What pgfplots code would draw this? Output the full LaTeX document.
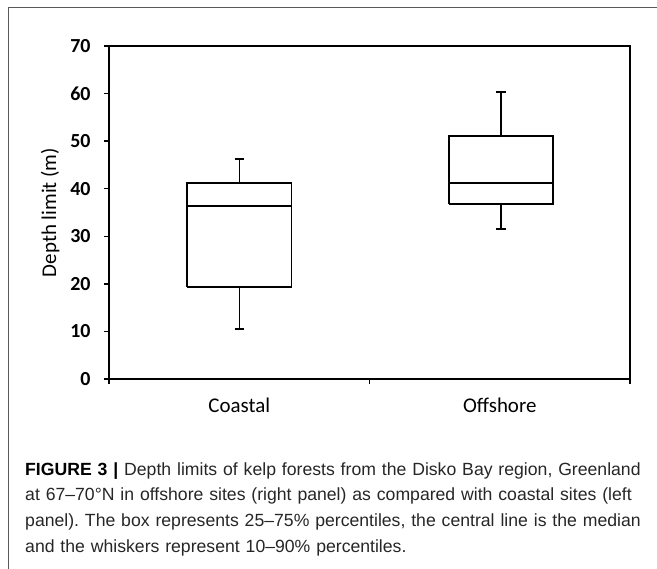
\documentclass[border=0pt]{standalone}
\usepackage{fontspec}
\setmainfont{Liberation Sans}
\newfontfamily\calfont{Carlito}
\usepackage{pgfplots}
\pgfplotsset{compat=1.18}
\frenchspacing
\begin{document}
\begin{tikzpicture}[x=1bp,y=1bp]
\path[use as bounding box] (0,0) rectangle (657,-569);
\draw[line width=1bp, color=black!65] (8,-569) -- (8,-8) -- (657,-8);
\begin{axis}[
  at={(109bp,-379bp)}, anchor=south west,
  scale only axis, width=521bp, height=333bp,
  xmin=0, xmax=2, ymin=0, ymax=70,
  ytick={0,10,...,70},
  xtick={0,1,2},
  xticklabels={Coastal,Offshore},
  x tick label as interval,
  xtick pos=bottom, ytick pos=left,
  tick align=outside,
  major tick length=5bp,
  axis line style={line width=1.4bp},
  tick style={line width=1.4bp, black},
  /pgf/number format/assume math mode=true,
  yticklabel style={font=\calfont\bfseries\fontsize{20}{20}\selectfont, xshift=-10bp},
  xticklabel style={font=\calfont\fontsize{21}{21}\selectfont, yshift=-10bp},
  ylabel={Depth limit (m)},
  every axis y label/.style={at={(axis description cs:-0.113,0.5)}, rotate=90, anchor=center,
     font=\calfont\fontsize{21}{21}\selectfont},
  bx/.style={black, line width=1.5bp, mark=none, solid},
]
% Coastal: box 25-75%, median, whiskers 10-90%
\addplot[bx] coordinates {(0.3,19.3) (0.7,19.3) (0.7,41.2) (0.3,41.2) (0.3,19.3)};
\addplot[bx] coordinates {(0.3,36.4) (0.7,36.4)};
\addplot[bx] coordinates {(0.5,41.2) (0.5,46.2)};
\addplot[bx] coordinates {(0.482,46.2) (0.518,46.2)};
\addplot[bx] coordinates {(0.5,19.3) (0.5,10.5)};
\addplot[bx] coordinates {(0.482,10.5) (0.518,10.5)};
% Offshore
\addplot[bx] coordinates {(1.305,36.8) (1.705,36.8) (1.705,51.1) (1.305,51.1) (1.305,36.8)};
\addplot[bx] coordinates {(1.305,41.2) (1.705,41.2)};
\addplot[bx] coordinates {(1.505,51.1) (1.505,60.3)};
\addplot[bx] coordinates {(1.487,60.3) (1.523,60.3)};
\addplot[bx] coordinates {(1.505,36.8) (1.505,31.5)};
\addplot[bx] coordinates {(1.487,31.5) (1.523,31.5)};
\end{axis}
\node[anchor=base west, inner sep=0pt, align=left, text width=650bp,
  font=\fontsize{17.7}{26}\selectfont, text=black!85] at (25,-475)
  {\textcolor{black}{\textbf{FIGURE 3 |}} Depth limits of kelp forests from the Disko Bay region, Greenland\\
   at 67–70°N in offshore sites (right panel) as compared with coastal sites (left\\
   panel). The box represents 25–75\% percentiles, the central line is the median\\
   and the whiskers represent 10–90\% percentiles.};
\end{tikzpicture}
\end{document}
